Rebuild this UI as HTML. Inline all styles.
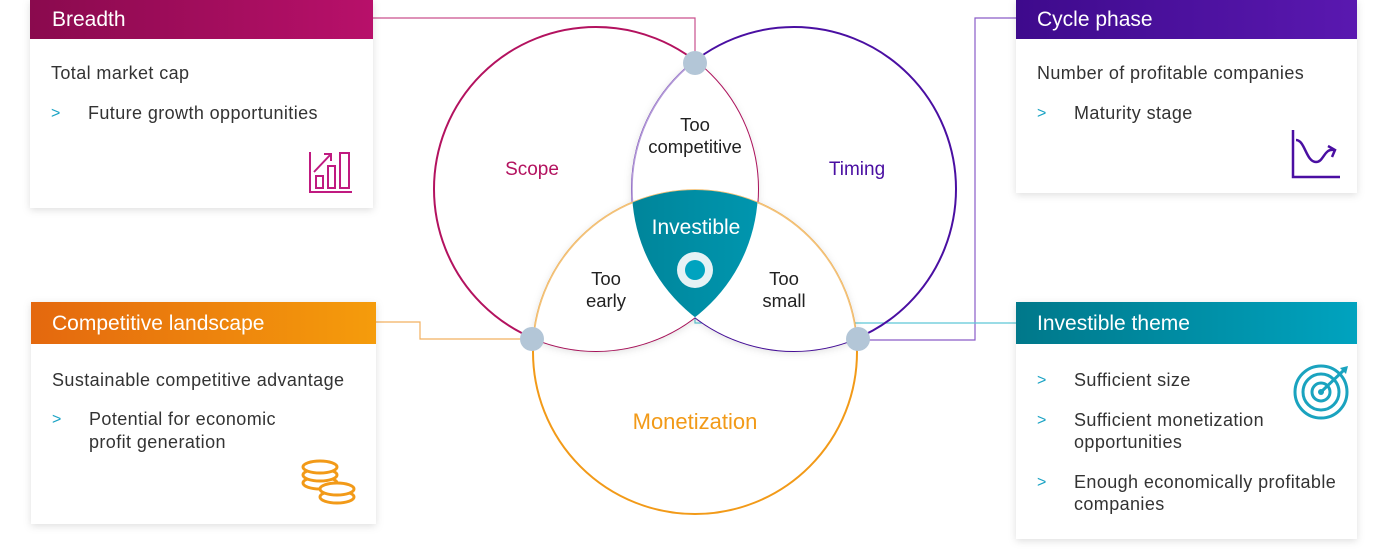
<!DOCTYPE html>
<html><head><meta charset="utf-8"><style>
html,body{margin:0;padding:0;background:#fff;}
svg{display:block;font-family:"Liberation Sans",sans-serif;}
</style></head><body>
<svg width="1388" height="551" viewBox="0 0 1388 551" xmlns="http://www.w3.org/2000/svg">
<defs>
<linearGradient id="gB" x1="0" x2="1"><stop offset="0" stop-color="#8a0a4e"/><stop offset="1" stop-color="#b8106a"/></linearGradient>
<linearGradient id="gC" x1="0" x2="1"><stop offset="0" stop-color="#3e0a8c"/><stop offset="1" stop-color="#5a18b0"/></linearGradient>
<linearGradient id="gO" x1="0" x2="1"><stop offset="0" stop-color="#e4680e"/><stop offset="1" stop-color="#f59c0c"/></linearGradient>
<linearGradient id="gT" x1="0" x2="1"><stop offset="0" stop-color="#00788a"/><stop offset="1" stop-color="#00a3bf"/></linearGradient>
<filter id="sh" x="-20%" y="-20%" width="140%" height="140%"><feDropShadow dx="0" dy="2" stdDeviation="4" flood-color="#000" flood-opacity="0.13"/></filter>
<clipPath id="cS"><circle cx="596" cy="189" r="162"/></clipPath>
<clipPath id="cT"><circle cx="794" cy="189" r="162"/></clipPath>
<clipPath id="cM"><circle cx="695" cy="352" r="162"/></clipPath>
</defs>

<polyline points="373,18 695,18 695,55" fill="none" stroke="#c9508e" stroke-width="1.2"/>
<polyline points="1016,18 975,18 975,340 866,340" fill="none" stroke="#8a5cc8" stroke-width="1.2"/>
<polyline points="376,322 420,322 420,339 525,339" fill="none" stroke="#f2b060" stroke-width="1.2"/>
<polyline points="1016,323 695,323 695,300" fill="none" stroke="#5ec8d6" stroke-width="1.2"/>

<circle cx="596" cy="189" r="162" fill="#fff" stroke="#b3125f" stroke-width="2"/>
<circle cx="794" cy="189" r="162" fill="none" stroke="#4a0fa2" stroke-width="2"/>
<circle cx="695" cy="352" r="162" fill="none" stroke="#f29a18" stroke-width="2"/>

<g filter="url(#sh)">
<g clip-path="url(#cS)"><circle cx="794" cy="189" r="162" fill="#fff" stroke="#b49ad8" stroke-width="1.5"/></g>
<g clip-path="url(#cS)"><circle cx="695" cy="352" r="162" fill="#fff" stroke="#f3c27a" stroke-width="1.5"/></g>
<g clip-path="url(#cT)"><circle cx="695" cy="352" r="162" fill="#fff" stroke="#f3c27a" stroke-width="1.5"/></g>
</g>
<g clip-path="url(#cS)"><g clip-path="url(#cT)"><circle cx="695" cy="352" r="162" fill="url(#gT)"/></g></g>
<circle cx="695" cy="270" r="18" fill="#e6f2f5"/>
<circle cx="695" cy="270" r="10" fill="#00a3bf"/>

<circle cx="695" cy="63" r="12" fill="#b3c6d7"/>
<circle cx="532" cy="339" r="12" fill="#b3c6d7"/>
<circle cx="858" cy="339" r="12" fill="#b3c6d7"/>

<g font-size="19" text-anchor="middle">
<text x="532" y="175" fill="#b3125f">Scope</text>
<text x="857" y="175" fill="#4a0fa2">Timing</text>
<text x="695" y="429" fill="#f29a18" font-size="22">Monetization</text>
<text x="696" y="234" fill="#fff" font-size="21">Investible</text>
</g>
<g font-size="18.5" text-anchor="middle" fill="#222">
<text x="695" y="131">Too</text><text x="695" y="153">competitive</text>
<text x="606" y="285">Too</text><text x="606" y="307">early</text>
<text x="784" y="285">Too</text><text x="784" y="307">small</text>
</g>

<g filter="url(#sh)">
<rect x="30" y="0" width="343" height="208" fill="#fff"/>
<rect x="1016" y="0" width="341" height="193" fill="#fff"/>
<rect x="31" y="302" width="345" height="222" fill="#fff"/>
<rect x="1016" y="302" width="341" height="237" fill="#fff"/>
</g>
<rect x="30" y="0" width="343" height="39" fill="url(#gB)"/>
<rect x="1016" y="0" width="341" height="39" fill="url(#gC)"/>
<rect x="31" y="302" width="345" height="42" fill="url(#gO)"/>
<rect x="1016" y="302" width="341" height="42" fill="url(#gT)"/>

<g font-size="21" fill="#fff">
<text x="52" y="26">Breadth</text>
<text x="1037" y="26">Cycle phase</text>
<text x="52" y="330">Competitive landscape</text>
<text x="1037" y="330">Investible theme</text>
</g>

<g font-size="18" fill="#333" letter-spacing="0.4">
<text x="51" y="79">Total market cap</text>
<text x="88" y="119">Future growth opportunities</text>
<text x="1037" y="79">Number of profitable companies</text>
<text x="1074" y="119">Maturity stage</text>
<text x="52" y="386">Sustainable competitive advantage</text>
<text x="89" y="425">Potential for economic</text>
<text x="89" y="448">profit generation</text>
<text x="1074" y="386">Sufficient size</text>
<text x="1074" y="426">Sufficient monetization</text>
<text x="1074" y="448">opportunities</text>
<text x="1074" y="488">Enough economically profitable</text>
<text x="1074" y="510">companies</text>
</g>
<g font-size="16" fill="#1aa3c4">
<text x="51" y="118">&gt;</text>
<text x="1037" y="118">&gt;</text>
<text x="52" y="424">&gt;</text>
<text x="1037" y="385">&gt;</text>
<text x="1037" y="425">&gt;</text>
<text x="1037" y="487">&gt;</text>
</g>

<g fill="none" stroke="#c01a80" stroke-width="2">
<polyline points="310,152 310,192 352,192"/>
<rect x="316" y="176" width="7" height="12"/>
<rect x="328" y="166" width="7" height="22"/>
<rect x="340" y="153" width="9" height="35"/>
<line x1="314" y1="172" x2="331" y2="154"/>
<polyline points="324,154 331,154 331,161"/>
</g>
<g fill="none" stroke="#4a0fa2" stroke-width="2.5">
<polyline points="1293,130 1293,177 1340,177"/>
<path d="M1296,140 C1305,140 1306,162 1316,162 C1324,162 1324,148 1334,150"/>
<polyline points="1328,146 1335,150 1332,157"/>
</g>
<g fill="none" stroke="#1aa3bf" stroke-width="3">
<circle cx="1321" cy="392" r="26"/>
<circle cx="1321" cy="392" r="18"/>
<circle cx="1321" cy="392" r="9"/>
<line x1="1321" y1="392" x2="1344" y2="370"/>
</g>
<circle cx="1321" cy="392" r="3" fill="#1aa3bf"/>
<polygon points="1340,368 1348,366 1346,374" fill="#1aa3bf"/>
<g fill="#fff" stroke="#f29a18" stroke-width="3">
<ellipse cx="320" cy="483" rx="17" ry="6"/>
<ellipse cx="320" cy="475" rx="17" ry="6"/>
<ellipse cx="320" cy="467" rx="17" ry="6"/>
<ellipse cx="337" cy="497" rx="17" ry="6"/>
<ellipse cx="337" cy="489" rx="17" ry="6"/>
</g>
</svg>
</body></html>
